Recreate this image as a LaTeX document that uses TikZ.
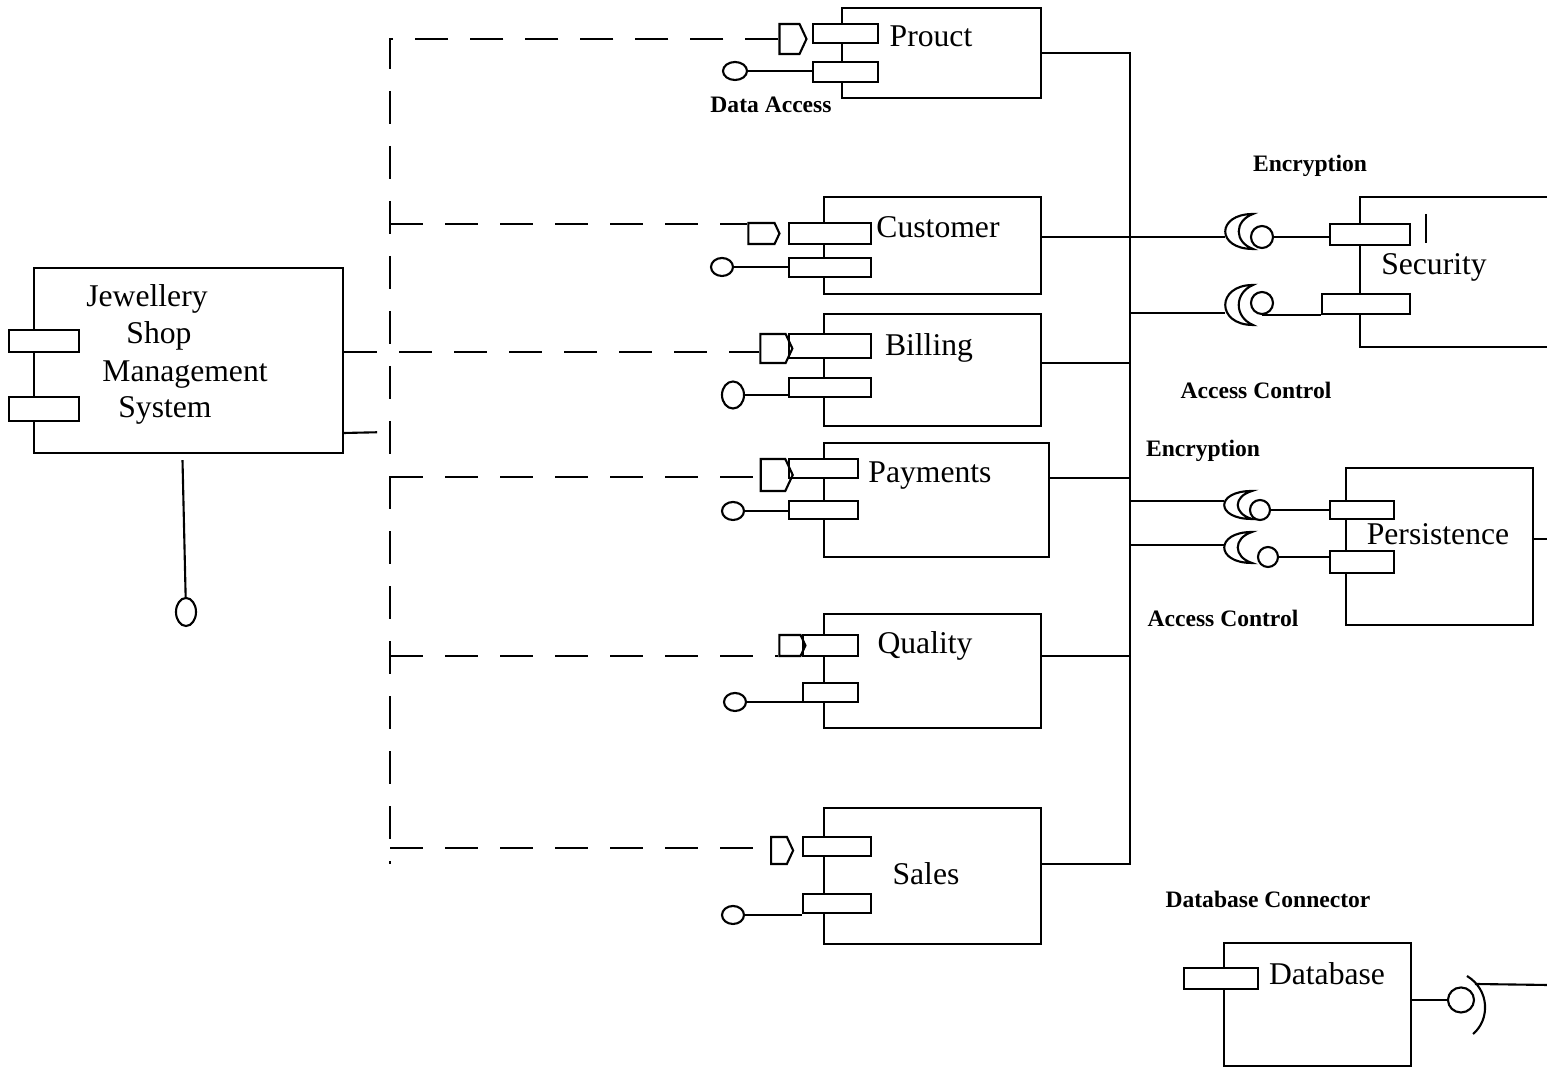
\documentclass[tikz,border=0pt]{standalone}
\usepackage{fontspec}
\setmainfont{Liberation Serif}
\usepackage{tikz}
\usetikzlibrary{shapes,arrows.meta,positioning,calc}

% socket (half of an assembly connector): name, left x, centre y, half height
\newcommand{\socket}[4]{%
  \coordinate (#1) at (#2,#3);
  \draw (#2+28,#3-#4) .. controls (#2-9,#3-#4) and (#2-9,#3+#4) .. (#2+28,#3+#4)
    .. controls (#2+9,#3+0.6*#4) and (#2+9,#3-0.6*#4) .. cycle;}

\begin{document}
\begin{tikzpicture}[x=0.01cm,y=-0.01cm,line width=0.6pt,
    comp/.style={draw,rectangle,inner sep=0pt},
    port/.style={draw,rectangle,inner sep=0pt,fill=white},
    iface/.style={draw,signal,signal to=east,signal pointer angle=130,inner sep=0pt},
    ball/.style={draw,ellipse,inner sep=0pt},
    lbl/.style={font=\fontsize{9}{10}\selectfont,anchor=base,inner sep=0pt},
    tag/.style={font=\fontsize{6.7}{8}\selectfont\bfseries,anchor=base,inner sep=0pt},
    dep/.style={dash pattern=on 0.33cm off 0.22cm}]
    \useasboundingbox (0,0) rectangle (1547,1068);
    \clip (0,0) rectangle (1547,1068);

    % Components
    \foreach \n/\x/\y/\w/\h in {prod/941.5/53/1.99/0.90, cust/932.5/245.5/2.17/0.97,
        bill/932.5/370/2.17/1.12, pay/936.5/500/2.25/1.14, qual/932.5/671/2.17/1.14,
        sale/932.5/876/2.17/1.36, sec/1480/272/2.40/1.50, per/1439.5/546.5/1.87/1.57,
        db/1317.5/1004.5/1.87/1.23, jsms/188.5/360.5/3.09/1.85} {
        \node[comp, minimum width=\w cm, minimum height=\h cm] (\n) at (\x,\y) {};
    }

    % Ports
    \foreach \n/\x/\y/\w/\h in {P1-prod/845.5/33.5/.65/.19, P2-prod/845.5/72/.65/.20,
        P1-cust/830/233.5/.82/.21, P2-cust/830/267.5/.82/.19,
        P1-bill/830/346/.82/.24, P2-bill/830/387.5/.82/.19,
        P1-pay/823.5/468.5/.69/.19, P2-pay/823.5/510/.69/.18,
        P1-qual/830.5/645.5/.55/.21, P2-qual/830.5/692.5/.55/.19,
        P1-sale/837/846.5/.68/.19, P2-sale/837/903.5/.68/.19,
        P1-sec/1370/234.5/.80/.21, P2-sec/1366/304/.88/.20,
        P1-per/1362/510/.64/.18, P2-per/1362/562/.64/.22,
        P-db/1221/978.5/.74/.21, P1-jsms/44/341/.70/.22, P2-jsms/44/409/.70/.24} {
        \node[port, minimum width=\w cm, minimum height=\h cm] (\n) at (\x,\y) {};
    }

    % Signal shapes
    \foreach \n/\x/\y/\w/\h in {prod/789.5/39/.27/.30, cust/761.5/233.5/.31/.21,
        bill/773/348.5/.32/.29, pay/773/475/.32/.32, qual/790/645.5/.26/.21,
        sale/779/850.5/.22/.27} {
        \node[iface, minimum width=\w cm, minimum height=\h cm] (S-\n) at (\x,\y) {};
    }

    % Lollipops
    \foreach \n/\x/\y/\w/\h in {prod/735/71/.24/.18, cust/722/267/.22/.18,
        bill/733/395/.22/.27, pay/733/511/.22/.18, qual/735/702/.22/.18,
        sale/733/915/.22/.18} {
        \node[ball, minimum width=\w cm, minimum height=\h cm] (I-\n) at (\x,\y) {};
        \draw (I-\n.east) -- (I-\n.east -| P2-\n.west);
    }
    \node[ball, minimum width=.20cm, minimum height=.28cm] (I-jsms) at (186,612) {};
    \draw ($(jsms.south)+(-6,6)$) -- (I-jsms);

    % Labels
    \node[lbl] (L-prod) at (931,47) {Prouct};
    \node[lbl] (L-cust) at (938,238) {Customer};
    \node[lbl] (L-bill) at (929,356) {Billing};
    \node[lbl] (L-pay) at (930,483) {Payments};
    \node[lbl] (L-qual) at (925,654) {Quality};
    \node[lbl] (L-sale) at (926,885) {Sales};
    \node[lbl] (L-sec) at (1434,275) {Security};
    \node[lbl] (L-per) at (1438,545) {Persistence};
    \node[lbl] (L-db) at (1327,985) {Database};
    \node[lbl] (L-jsms1) at (147,307) {Jewellery};
    \node[lbl] (L-jsms2) at (159,344) {Shop};
    \node[lbl] (L-jsms3) at (185,382) {Management};
    \node[lbl] (L-jsms4) at (165,418) {System};

    \node[tag] (T-data) at (771,113) {Data Access};
    \node[tag] (T-encA) at (1310,172) {Encryption};
    \node[tag] (T-accA) at (1256,399) {Access Control};
    \node[tag] (T-encB) at (1203,457) {Encryption};
    \node[tag] (T-accB) at (1223,627) {Access Control};
    \node[tag] (T-dbc) at (1268,908) {Database Connector};

    % Bus
    \coordinate (busTop) at (1130,53);
    \coordinate (busBot) at (1130,864);
    \draw (prod.east) -- (busTop) -- (busBot) -- (sale.east |- busBot);
    \foreach \n/\y in {bill/363, pay/478, qual/656} {
        \draw (\n.east |- 0,\y) -- (busTop |- 0,\y);
    }

    % Assembly connectors
    \socket{C-secA}{1225}{231.5}{17.5}
    \socket{C-secB}{1225}{305}{20}
    \socket{C-perA}{1224}{505}{14}
    \socket{C-perB}{1224}{547.5}{15.5}
    \draw (cust.east |- 0,237) -- (C-secA |- 0,237);
    \foreach \s/\y in {C-secB/313, C-perA/501, C-perB/545} {
        \draw (busTop |- 0,\y) -- (\s |- 0,\y);
    }
    \node[ball, minimum size=.22cm] (B-secA) at (1262,237) {};
    \node[ball, minimum size=.22cm] (B-secB) at (1262,303) {};
    \node[ball, minimum size=.20cm] (B-perA) at (1260,510) {};
    \node[ball, minimum size=.20cm] (B-perB) at (1268,557) {};
    \draw (B-secA.east) -- (B-secA.east -| P1-sec.west);
    \draw (B-secB.south) -- (B-secB.south -| P2-sec.west);
    \draw (B-perA.east) -- (B-perA.east -| P1-per.west);
    \draw (B-perB.east) -- (B-perB.east -| P2-per.west);
    \draw (1426,214) -- (1426,243);

    % Persistence and database out
    \coordinate (perOut) at (1547,539);
    \draw (per.east |- perOut) -- (perOut);
    \node[ball, minimum width=.26cm, minimum height=.25cm] (B-db) at (1461,1000) {};
    \draw (db.east |- B-db) -- (B-db);
    \coordinate (dbOut) at (1547,985);
    \draw (1467,976) .. controls (1490,990) and (1490,1020) .. (1473,1034);
    \draw (1475,984) -- (dbOut);

    % Dependencies
    \coordinate (depTop) at (390,39);
    \coordinate (depBot) at (390,864);
    \draw[dep] (S-prod.west) -- (depTop) -- (depBot);
    \foreach \n/\y in {cust/224, pay/477, qual/656, sale/848} {
        \draw[dep] (depTop |- 0,\y) -- (S-\n.west |- 0,\y);
    }
    \draw[dep] (jsms.east |- 0,352) -- (S-bill.west |- 0,352);
    \draw[dep] (jsms.east |- 0,433) -- (depTop |- 0,432);
\end{tikzpicture}
\end{document}
